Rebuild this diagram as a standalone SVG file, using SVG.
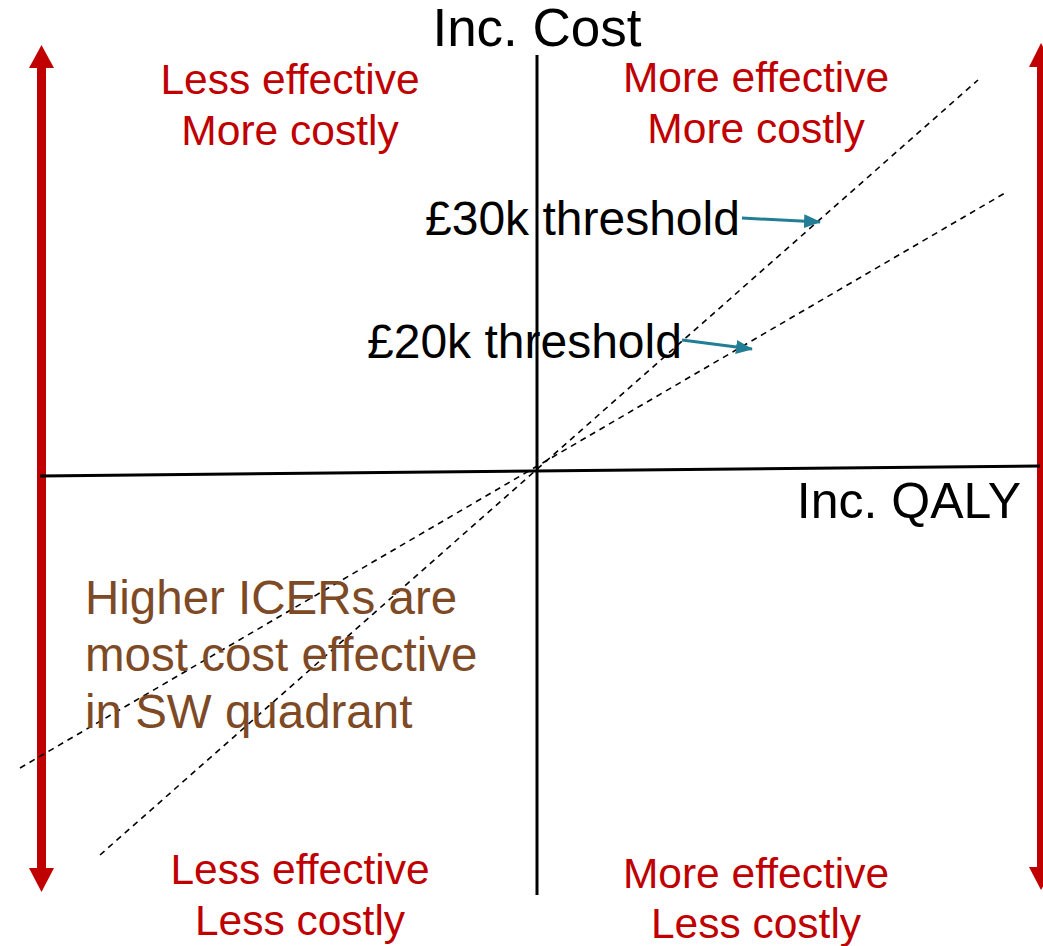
<svg xmlns="http://www.w3.org/2000/svg" width="1043" height="946" viewBox="0 0 1043 946">
  <defs>
    <style>
      text { font-family: "Liberation Sans", Arial, sans-serif; }
      .axis { stroke: #000; stroke-width: 3; fill: none; }
      .dash { stroke: #000; stroke-width: 1.6; stroke-dasharray: 6 5; fill: none; }
      .pointer { stroke: #217E94; stroke-width: 3; fill: none; marker-end: url(#tealHead); }
      .red { fill: #C00000; }
      .quad { fill: #C00000; font-size: 42.5px; text-anchor: middle; }
      .lbl { fill: #000; }
      .note { fill: #7E4A26; font-size: 47.5px; }
    </style>
    <marker id="tealHead" markerUnits="userSpaceOnUse" markerWidth="18" markerHeight="14" refX="16" refY="7" orient="auto">
      <path d="M0,0 L17,7 L0,14 Z" fill="#217E94"/>
    </marker>
  </defs>

  <!-- double-headed red arrows at both edges -->
  <g id="left-arrow">
    <rect class="red" x="37" y="66" width="9" height="804"/>
    <polygon class="red" points="41.5,45 29,68 54,68"/>
    <polygon class="red" points="41.5,892 29,868 54,868"/>
  </g>
  <g id="right-arrow">
    <rect class="red" x="1037" y="65" width="9" height="804"/>
    <polygon class="red" points="1041,43 1029,67 1054,67"/>
    <polygon class="red" points="1041,890 1029,867 1054,867"/>
  </g>

  <!-- axes and threshold lines -->
  <g id="connectors">
    <line class="axis" x1="40" y1="476" x2="1040" y2="466"/>
    <line class="axis" x1="537" y1="55" x2="537" y2="895"/>
    <line class="dash" x1="100" y1="855" x2="978" y2="80"/>
    <line class="dash" x1="20" y1="768" x2="1005" y2="193"/>
    <line class="pointer" x1="742" y1="218" x2="820" y2="222"/>
    <line class="pointer" x1="682" y1="340" x2="752" y2="349"/>
  </g>

  <g id="axis-labels">
    <text class="lbl" x="537" y="46" font-size="53" text-anchor="middle">Inc. Cost</text>
    <text class="lbl" x="1021" y="518" font-size="50" text-anchor="end">Inc. QALY</text>
  </g>

  <g id="threshold-labels">
    <text class="lbl" x="425" y="235" font-size="48">£30k threshold</text>
    <text class="lbl" x="367" y="358" font-size="48">£20k threshold</text>
  </g>

  <g id="quadrant-nw">
    <text class="quad" x="290" y="94">Less effective</text>
    <text class="quad" x="290" y="145">More costly</text>
  </g>
  <g id="quadrant-ne">
    <text class="quad" x="756" y="92">More effective</text>
    <text class="quad" x="756" y="143">More costly</text>
  </g>
  <g id="quadrant-sw">
    <text class="quad" x="300" y="884">Less effective</text>
    <text class="quad" x="300" y="935">Less costly</text>
  </g>
  <g id="quadrant-se">
    <text class="quad" x="756" y="888">More effective</text>
    <text class="quad" x="756" y="938">Less costly</text>
  </g>

  <g id="note">
    <text class="note" x="85" y="614">Higher ICERs are</text>
    <text class="note" x="85" y="671">most cost effective</text>
    <text class="note" x="85" y="728">in SW quadrant</text>
  </g>
</svg>
